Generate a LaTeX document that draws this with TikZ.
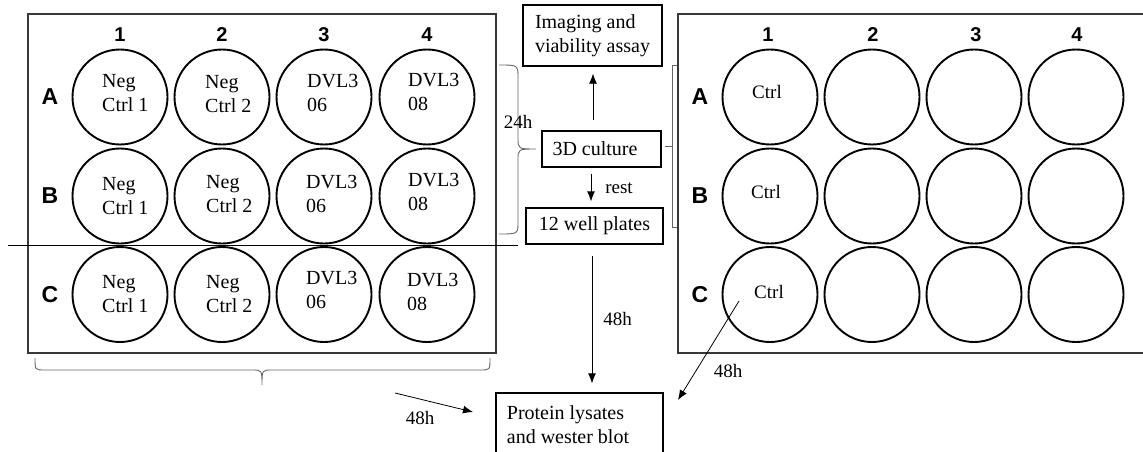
\documentclass[tikz,border=0pt]{standalone}
\usepackage{fontspec}
\setmainfont{Liberation Serif}
\newfontfamily\labelfont{Liberation Sans}
\usetikzlibrary{arrows.meta,calc}

\begin{document}
\begin{tikzpicture}[x=1pt,y=-1pt,
  plate/.style={draw=black!78, line width=2.4pt},
  well/.style={circle, draw, line width=1.9pt, minimum size=95pt, inner sep=0pt},
  welltext/.style={font=\fontsize{20}{24}\selectfont, align=left, anchor=west, inner sep=0pt},
  ctrltext/.style={font=\fontsize{19}{23}\selectfont, inner sep=0pt},
  collabel/.style={font=\labelfont\bfseries\fontsize{20}{24}\selectfont, inner sep=0pt},
  rowlabel/.style={font=\labelfont\bfseries\fontsize{23}{27}\selectfont, inner sep=0pt},
  stepbox/.style={draw, line width=1.3pt, font=\fontsize{20}{24}\selectfont, align=left, inner sep=0pt},
  arr/.style={line width=0.8pt, -{Latex[length=10pt,width=8pt]}},
  bracket/.style={draw=black!60, line width=0.9pt},
  timelabel/.style={font=\fontsize{19}{23}\selectfont, inner sep=0pt}
]
\useasboundingbox (0,0) rectangle (1143,452);
\clip (0,0) rectangle (1143,452);

% ---------- left plate ----------
\draw[plate] (28,14) rectangle (496,353);
\foreach \c/\x in {1/120,2/222,3/324,4/427}
  \node[collabel] (Lcol\c) at (\x,35) {\c};
\foreach \r/\y in {A/97,B/196,C/294.5}
  \node[rowlabel] (Lrow\r) at (50,\y) {\r};
\foreach \r/\y in {A/97,B/196,C/294.5}
  \foreach \c/\x in {1/120,2/222,3/324,4/427}
    \node[well] (L\r\c) at (\x,\y) {};

% well contents
\node[welltext] (tA1) at (102,93) {Neg\\Ctrl 1};
\node[welltext] (tA2) at (205,94) {Neg\\Ctrl 2};
\node[welltext] (tA3) at (307,93) {DVL3\\06};
\node[welltext] (tA4) at (408,92) {DVL3\\08};
\node[welltext] (tB1) at (102,196) {Neg\\Ctrl 1};
\node[welltext] (tB2) at (206,194.5) {Neg\\Ctrl 2};
\node[welltext] (tB3) at (306,194) {DVL3\\06};
\node[welltext] (tB4) at (408,192) {DVL3\\08};
\node[welltext] (tC1) at (102,294) {Neg\\Ctrl 1};
\node[welltext] (tC2) at (206,294) {Neg\\Ctrl 2};
\node[welltext] (tC3) at (306,290) {DVL3\\06};
\node[welltext] (tC4) at (407,291.5) {DVL3\\08};

% divider between rows B and C
\coordinate (divL) at (8,245);
\coordinate (divR) at (518,245);
\draw[line width=0.8pt] (divL) -- (divR);

% brace under the left plate
\draw[bracket] (35,358) .. controls (35,370) .. (45,370) -- (252,370)
  .. controls (262,370) .. (262,385) .. controls (262,370) .. (272,370)
  -- (480,370) .. controls (490,370) .. (490,358);

% brace for rows A and B
\draw[bracket] (499,65) .. controls (518,65) .. (518,78) -- (518,138)
  .. controls (518,149) .. (536,149) .. controls (518,149) .. (518,160)
  -- (518,222) .. controls (518,234) .. (499,234);
\node[timelabel] (t24) at (518,122) {24h};

% ---------- workflow boxes ----------
\coordinate (xmid) at (593,0);
\node[stepbox, minimum width=139pt, minimum height=61pt] (img) at (592.5,35.5)
  {Imaging and\\viability assay};
\node[stepbox, minimum width=119pt, minimum height=36pt] (c3d) at (601.5,149)
  {3D culture\hspace*{13pt}};
\node[stepbox, minimum width=137pt, minimum height=36pt] (wp) at (594.5,226)
  {12 well plates};
\node[stepbox, minimum width=167pt, minimum height=63pt] (prot) at (579.5,424.5)
  {Protein lysates\hspace*{28pt}\\and wester blot};

\draw[arr, shorten <=10pt, shorten >=7pt] (c3d.north -| xmid) -- (img.south -| xmid);
\draw[arr, shorten <=6pt, shorten >=6pt] ([xshift=-2pt]c3d.south -| xmid) -- ([xshift=-2pt]wp.north -| xmid);
\node[timelabel] (trest) at (619,188) {rest};
\draw[arr, shorten <=11pt, shorten >=9pt] ([xshift=-1pt]wp.south -| xmid) -- ([xshift=-1pt]prot.north -| xmid);
\node[timelabel] (t48a) at (617.5,319) {48h};

\coordinate (lfrom) at (395,393);
\coordinate (lto) at (473,412);
\draw[arr] (lfrom) -- (lto);
\node[timelabel] (t48b) at (420,418) {48h};

% ---------- right plate ----------
\draw[plate] (678,14) rectangle (1160,353);
\foreach \c/\x in {1/768,2/873,3/976,4/1077}
  \node[collabel] (Rcol\c) at (\x,35) {\c};
\foreach \r/\y in {A/97,B/196,C/294.5}
  \node[rowlabel] (Rrow\r) at (700,\y) {\r};
\foreach \r/\y in {A/97,B/196,C/294.5}
  \foreach \c/\x in {1/770,2/872,3/974,4/1076}
    \node[well] (R\r\c) at (\x,\y) {};
\node[ctrltext] (cA) at (767,92) {Ctrl};
\node[ctrltext] (cB) at (766,192) {Ctrl};
\node[ctrltext] (cC) at (769,292) {Ctrl};

% bracket beside the right plate
\draw[bracket] (677,65) -- (672,65) -- (672,227) -- (677,227);
\draw[bracket] (672,146) -- (665,146);

% arrow from the control well to the lysates
\coordinate (rfrom) at (739,301);
\coordinate (rto) at (678,400);
\draw[arr] (rfrom) -- (rto);
\node[timelabel] (t48c) at (728,371) {48h};
\end{tikzpicture}
\end{document}
